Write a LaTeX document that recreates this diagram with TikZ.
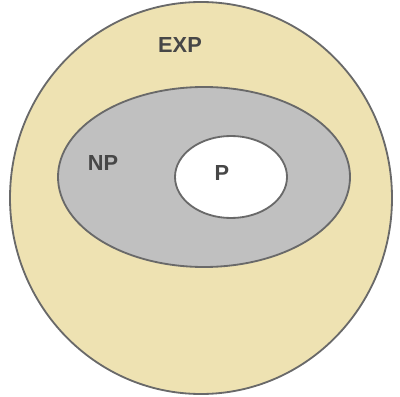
\documentclass[tikz,border=0pt]{standalone}
\usepackage{fontspec}
\setmainfont{Liberation Sans}
\usetikzlibrary{shapes.geometric}
\definecolor{expfill}{RGB}{238,226,178}
\definecolor{npfill}{RGB}{192,192,192}
\definecolor{rim}{RGB}{105,105,105}
\tikzset{
  cls/.style={ellipse, draw=rim, line width=1.3pt, inner sep=0pt},
  lab/.style={font=\fontsize{15.5}{17}\selectfont\bfseries, text=black!72},
}
\begin{document}
\begin{tikzpicture}
  \useasboundingbox (0,0) rectangle (10,9.9);
  % nested classes
  \node[cls, fill=expfill, minimum width=9.55cm, minimum height=9.8cm] (exp) at (5.025,4.95) {};
  \node[cls, fill=npfill, minimum width=7.3cm, minimum height=4.5cm] (np) at (5.1,5.475) {};
  \node[cls, fill=white, minimum width=2.8cm, minimum height=2.05cm] (p) at (5.775,5.475) {};
  % class names
  \node[lab] (explab) at (4.5,8.775) {EXP};
  \node[lab] (nplab) at (2.575,5.825) {NP};
  \node[lab] (plab) at (5.55,5.575) {P};
\end{tikzpicture}
\end{document}
